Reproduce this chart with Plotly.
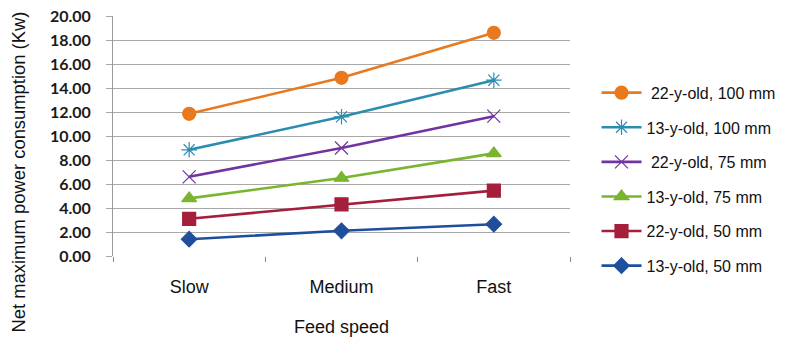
import plotly.graph_objects as go

speeds = ["Slow", "Medium", "Fast"]

series_names = [
    "\u00a022-y-old, 100 mm",
    "13-y-old, 100 mm",
    "\u00a022-y-old, 75 mm",
    "13-y-old, 75 mm",
    "22-y-old, 50 mm",
    "13-y-old, 50 mm",
]
old22_100 = [11.85, 14.85, 18.60]
old13_100 = [8.85, 11.60, 14.65]
old22_75 = [6.60, 9.00, 11.65]
old13_75 = [4.80, 6.50, 8.55]
old22_50 = [3.10, 4.30, 5.45]
old13_50 = [1.40, 2.10, 2.65]

y_ticks = [0, 2, 4, 6, 8, 10, 12, 14, 16, 18, 20]

series_values = [old22_100, old13_100, old22_75, old13_75, old22_50, old13_50]
colors = ["#E8791E", "#2A8DB0", "#7133A0", "#79B52E", "#A51E3C", "#1F4F9C"]
symbols = ["circle", "asterisk-open", "x-thin-open", "triangle-up", "square", "diamond"]
sizes = [13, 13, 13, 13, 13, 12]

fig = go.Figure()
for i, (name, vals) in enumerate(zip(series_names, series_values)):
    fig.add_trace(go.Scatter(
        x=speeds, y=vals, name=name, mode="lines+markers",
        legendgroup=f"g{i}",
        line=dict(color=colors[i], width=2.6),
        marker=dict(symbol=symbols[i], size=sizes[i], color=colors[i],
                    line=dict(color=colors[i], width=1.2)),
    ))

sans = "Liberation Sans, Arial"

fig.update_layout(
    width=801, height=340,
    margin=dict(l=113, r=231, t=16, b=84),
    paper_bgcolor="white", plot_bgcolor="white",
    font=dict(family=sans, color="#111111"),
    showlegend=True,
    legend=dict(
        x=1.058, y=0.751, xanchor="left", yanchor="top",
        traceorder="grouped", tracegroupgap=10.8,
        font=dict(size=16, family=sans, color="#111111"),
        bgcolor="rgba(0,0,0,0)", itemwidth=40,
    ),
    xaxis=dict(
        type="category", range=[-0.5, 2.5], automargin=False,
        showgrid=False, showline=False, zeroline=False,
        ticks="outside", tickson="boundaries", ticklen=5, tickcolor="#888888",
        ticklabelstandoff=18,
        tickfont=dict(size=18, family=sans, color="#111111"),
        title=dict(text="Feed speed", font=dict(size=18, family=sans), standoff=24),
    ),
    yaxis=dict(
        range=[0, 20], tickvals=y_ticks, automargin=False,
        ticktext=[f"{v:.2f}" for v in y_ticks],
        showgrid=True, gridcolor="#A8A8A8", gridwidth=1,
        showline=True, linecolor="#9A9A9A", linewidth=1,
        zeroline=False,
        ticks="outside", ticklen=6, tickcolor="#A8A8A8",
        ticklabelstandoff=12,
        tickfont=dict(size=16, family="Lato, Open Sans", color="#1a1a1a", weight="bold"),
    ),
    annotations=[dict(
        text="Net maximum power consumption (Kw)",
        textangle=-90, xref="paper", yref="paper",
        x=-0.2057, y=0.352, xanchor="center", yanchor="middle",
        showarrow=False, font=dict(size=18.4, family=sans, color="#111111"),
    )],
)

fig.write_html("out.html")
